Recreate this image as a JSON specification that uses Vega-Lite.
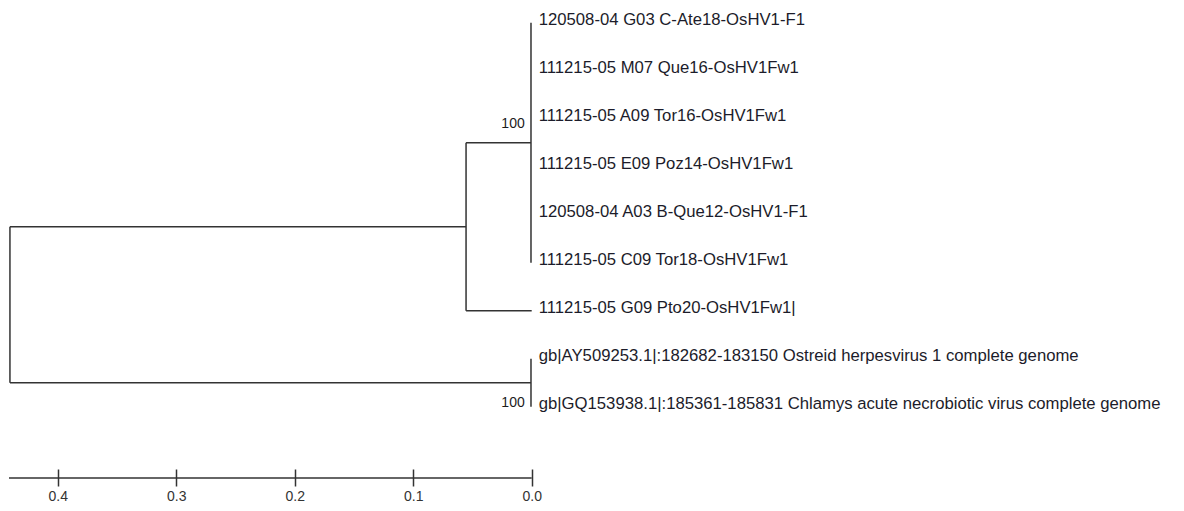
{
  "$schema": "https://vega.github.io/schema/vega-lite/v6.json",
  "width": 1184,
  "height": 478,
  "padding": {"left": 0, "top": 0, "right": 0, "bottom": 33},
  "autosize": {"type": "none"},
  "background": "white",
  "config": {"view": {"stroke": null}},
  "datasets": {
    "edges": [
      {"x1": 0.4403, "x2": 0.4403, "y1": 4.25, "y2": 7.5},
      {"x1": 0.4403, "x2": 0.0554, "y1": 4.25, "y2": 4.25},
      {"x1": 0.0554, "x2": 0.0554, "y1": 2.5, "y2": 6},
      {"x1": 0.0554, "x2": 0.0006, "y1": 2.5, "y2": 2.5},
      {"x1": 0.0006, "x2": 0.0006, "y1": 0, "y2": 5},
      {"x1": 0.0554, "x2": 0, "y1": 6, "y2": 6},
      {"x1": 0.4403, "x2": 0.0006, "y1": 7.5, "y2": 7.5},
      {"x1": 0.0006, "x2": 0.0006, "y1": 7, "y2": 8}
    ],
    "leaves": [
      {"x1": 0, "y1": 0, "name": "120508-04 G03 C-Ate18-OsHV1-F1"},
      {"x1": 0, "y1": 1, "name": "111215-05 M07 Que16-OsHV1Fw1"},
      {"x1": 0, "y1": 2, "name": "111215-05 A09 Tor16-OsHV1Fw1"},
      {"x1": 0, "y1": 3, "name": "111215-05 E09 Poz14-OsHV1Fw1"},
      {"x1": 0, "y1": 4, "name": "120508-04 A03 B-Que12-OsHV1-F1"},
      {"x1": 0, "y1": 5, "name": "111215-05 C09 Tor18-OsHV1Fw1"},
      {"x1": 0, "y1": 6, "name": "111215-05 G09 Pto20-OsHV1Fw1|"},
      {"x1": 0, "y1": 7, "name": "gb|AY509253.1|:182682-183150 Ostreid herpesvirus 1 complete genome"},
      {"x1": 0, "y1": 8, "name": "gb|GQ153938.1|:185361-185831 Chlamys acute necrobiotic virus complete genome"}
    ],
    "boot": [
      {"x1": 0, "y1": 2.5, "label": "100", "side": "above"},
      {"x1": 0, "y1": 7.5, "label": "100", "side": "below"}
    ],
    "scalebar": [
      {"x1": 0.4411, "x2": 0}
    ]
  },
  "layer": [
    {
      "data": {"name": "edges"},
      "mark": {"type": "rule", "stroke": "#333333", "strokeWidth": 1.5},
      "encoding": {
        "x": {
          "field": "x1", "type": "quantitative",
          "scale": {"domain": [-0.55046, 0.44869], "reverse": true, "nice": false, "zero": false},
          "axis": {
            "values": [0, 0.1, 0.2, 0.3, 0.4], "format": ".1f", "domain": false, "grid": false,
            "offset": -9, "tickSize": 17, "tickColor": "#333333", "tickWidth": 1.5,
            "labelPadding": 3, "labelFont": "Liberation Sans", "labelFontSize": 14,
            "labelColor": "#333333", "title": null, "orient": "bottom"
          }
        },
        "x2": {"field": "x2"},
        "y": {
          "field": "y1", "type": "quantitative",
          "scale": {"domain": [-0.4729, 9.4854], "reverse": true, "nice": false, "zero": false},
          "axis": null
        },
        "y2": {"field": "y2"}
      }
    },
    {
      "data": {"name": "scalebar"},
      "mark": {"type": "rule", "stroke": "#333333", "strokeWidth": 1.5},
      "encoding": {
        "x": {"field": "x1", "type": "quantitative"},
        "x2": {"field": "x2"},
        "y": {"datum": 9.4854, "type": "quantitative"}
      }
    },
    {
      "data": {"name": "leaves"},
      "mark": {"type": "text", "align": "left", "baseline": "middle", "dx": 7, "dy": -3, "font": "Liberation Sans", "fontSize": 16.7, "fill": "#1c1c2a"},
      "encoding": {
        "x": {"field": "x1", "type": "quantitative"},
        "y": {"field": "y1", "type": "quantitative"},
        "text": {"field": "name"}
      }
    },
    {
      "data": {"name": "boot"},
      "transform": [{"filter": "datum.side === 'above'"}],
      "mark": {"type": "text", "align": "right", "baseline": "middle", "dx": -7, "dy": -19, "font": "Liberation Sans", "fontSize": 14, "fill": "#1c1c1c"},
      "encoding": {
        "x": {"field": "x1", "type": "quantitative"},
        "y": {"field": "y1", "type": "quantitative"},
        "text": {"field": "label"}
      }
    },
    {
      "data": {"name": "boot"},
      "transform": [{"filter": "datum.side === 'below'"}],
      "mark": {"type": "text", "align": "right", "baseline": "middle", "dx": -7, "dy": 20, "font": "Liberation Sans", "fontSize": 14, "fill": "#1c1c1c"},
      "encoding": {
        "x": {"field": "x1", "type": "quantitative"},
        "y": {"field": "y1", "type": "quantitative"},
        "text": {"field": "label"}
      }
    }
  ]
}
